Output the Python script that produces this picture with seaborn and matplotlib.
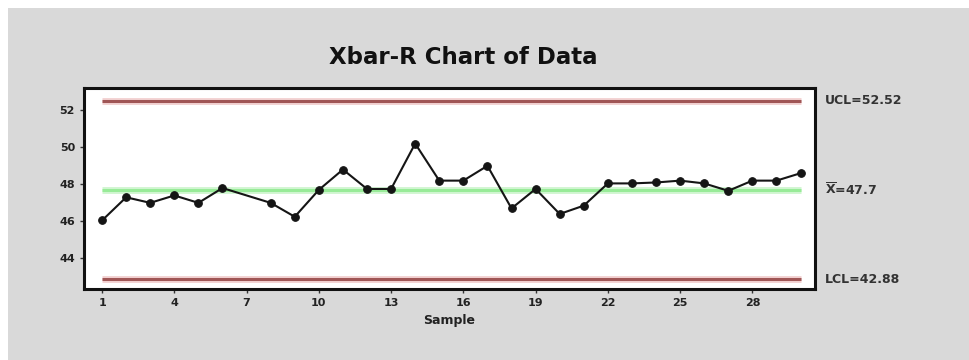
import numpy as np
import pandas as pd
import matplotlib
matplotlib.use("Agg")
import matplotlib.pyplot as plt
from matplotlib.patches import Rectangle
import seaborn as sns

# Datos (la muestra 7 no aparece)
samples = [1, 2, 3, 4, 5, 6, 8, 9, 10, 11, 12, 13, 14, 15, 16, 17, 18, 19,
           20, 21, 22, 23, 24, 25, 26, 27, 28, 29, 30]
means = [46.05, 47.3, 47.0, 47.4, 47.0, 47.8, 47.0, 46.25, 47.7, 48.8, 47.75,
         47.75, 50.2, 48.2, 48.2, 49.0, 46.7, 47.75, 46.4, 46.85, 48.05, 48.05,
         48.1, 48.2, 48.05, 47.65, 48.2, 48.2, 48.6]
ucl = 52.52
center = 47.7
lcl = 42.88
x_ticks = [1, 4, 7, 10, 13, 16, 19, 22, 25, 28]
y_ticks = [44, 46, 48, 50, 52]

df = pd.DataFrame({"Sample": samples, "Mean": means})

sns.set_style("white")
plt.rcParams["font.family"] = ["DejaVu Sans"]

fig = plt.figure(figsize=(9.69, 3.6), dpi=100, facecolor="white")
# fondo gris con un pequeno margen blanco arriba y a la izquierda
fig.add_artist(Rectangle((8 / 969, 0), 1, 1 - 8 / 360, transform=fig.transFigure,
                         facecolor="#d9d9d9", edgecolor="none", zorder=-10))
ax = fig.add_axes([84 / 969, 1 - 289 / 360, (815 - 84) / 969, (289 - 88) / 360])
ax.set_facecolor("white")

# limites de control
for val in (ucl, lcl):
    ax.hlines(val, samples[0], samples[-1], color="#f3d3d3", lw=5, zorder=1)
    ax.hlines(val, samples[0], samples[-1], color="#a05656", lw=2.2, zorder=2)
ax.hlines(center, samples[0], samples[-1], color="#d2f6d2", lw=5, zorder=1)
ax.hlines(center, samples[0], samples[-1], color="#98eb98", lw=2.2, zorder=2)

sns.lineplot(data=df, x="Sample", y="Mean", ax=ax, color="#151515", lw=1.5,
             marker="o", markersize=5.5, markeredgecolor="#151515", zorder=3)

ax.set_xlim(0.25, 30.6)
ax.set_ylim(42.35, 53.2)
ax.set_xticks(x_ticks)
ax.set_yticks(y_ticks)
ax.tick_params(axis="both", labelsize=8, length=3, width=1, color="#333333",
               labelcolor="#222222", direction="out", bottom=True, left=True)
for lab in ax.get_xticklabels() + ax.get_yticklabels():
    lab.set_fontweight("bold")
ax.set_xlabel("Sample", fontsize=9, fontweight="bold", color="#222222", labelpad=4)
ax.set_ylabel("")
for sp in ax.spines.values():
    sp.set_linewidth(2.2)
    sp.set_color("#111111")

# etiquetas a la derecha
trans = ax.get_yaxis_transform()
ax.text(1.013, ucl, "UCL=52.52", transform=trans, va="center", ha="left",
        fontsize=9, fontweight="bold", color="#333333")
ax.text(1.013, center, r"$\mathbf{\overline{X}}$=47.7", transform=trans, va="center",
        ha="left", fontsize=9, fontweight="bold", color="#333333")
ax.text(1.013, lcl, "LCL=42.88", transform=trans, va="center", ha="left",
        fontsize=9, fontweight="bold", color="#333333")

fig.text(463 / 969, 1 - 58 / 360, "Xbar-R Chart of Data", ha="center", va="center",
         fontsize=16.5, fontweight="bold", color="#111111")

fig.savefig("out.png", dpi=100, facecolor=fig.get_facecolor())
